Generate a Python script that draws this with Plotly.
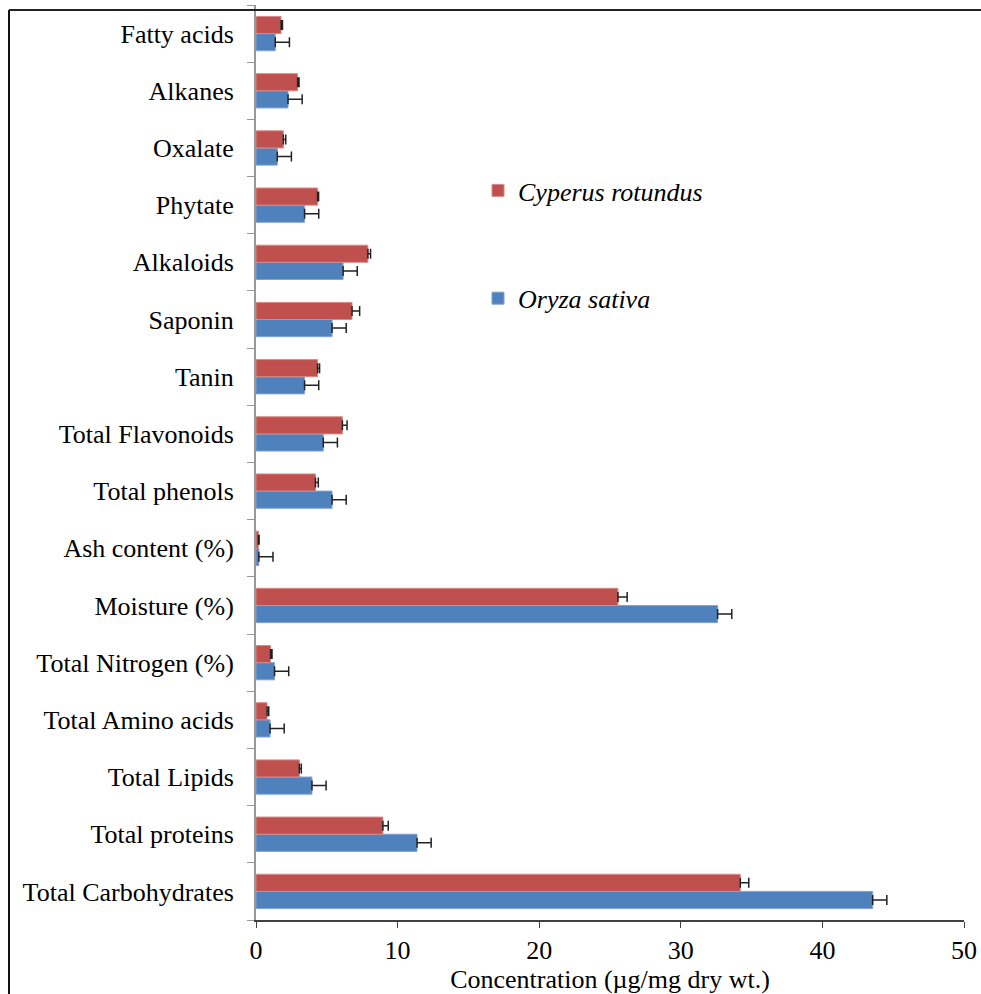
import plotly.graph_objects as go

categories = ["Total Carbohydrates", "Total proteins", "Total Lipids", "Total Amino acids",
              "Total Nitrogen (%)", "Moisture (%)", "Ash content (%)", "Total phenols",
              "Total Flavonoids", "Tanin", "Saponin", "Alkaloids", "Phytate", "Oxalate",
              "Alkanes", "Fatty acids"]
oryza = [43.55, 11.37, 3.95, 0.99, 1.31, 32.6, 0.2, 5.37, 4.75, 3.43, 5.37, 6.15, 3.43, 1.5, 2.26, 1.36]
oryza_err = [1.0, 1.0, 1.0, 1.0, 1.0, 1.0, 1.0, 1.0, 1.0, 1.0, 1.0, 1.0, 1.0, 1.0, 1.0, 1.0]
cyperus = [34.2, 8.96, 3.06, 0.78, 1.03, 25.56, 0.17, 4.2, 6.1, 4.35, 6.78, 7.9, 4.35, 1.93, 2.94, 1.77]
cyperus_err = [0.6, 0.38, 0.14, 0.12, 0.1, 0.65, 0.05, 0.2, 0.33, 0.14, 0.54, 0.19, 0.07, 0.17, 0.1, 0.1]
x_ticks = [0, 10, 20, 30, 40, 50]

FONT = "Liberation Serif"
FS = 26
W, H = 981, 994
L, R, T, B = 256, 17, 5, 74
pw, ph = W - L - R, H - T - B

def px2paper_x(px):
    return (px - L) / pw

def px2paper_y(py):
    return (H - B - py) / ph

fig = go.Figure()
fig.add_trace(go.Bar(
    y=categories, x=oryza, orientation="h", name="<i>Oryza sativa</i>",
    legendgroup="o", legendrank=2,
    marker=dict(color="#4F81BD", line=dict(color="#7fa3d3", width=1)),
    error_x=dict(type="data", array=oryza_err, arrayminus=[0] * len(oryza_err),
                 symmetric=False, color="#222222", thickness=1.5, width=5),
))
fig.add_trace(go.Bar(
    y=categories, x=cyperus, orientation="h", name="<i>Cyperus rotundus</i>",
    legendgroup="c", legendrank=1,
    marker=dict(color="#C0504D", line=dict(color="#d98a88", width=1)),
    error_x=dict(type="data", array=cyperus_err, arrayminus=[0] * len(cyperus_err),
                 symmetric=False, color="#222222", thickness=1.5, width=5),
))

fig.update_layout(
    width=W, height=H,
    margin=dict(l=L, r=R, t=T, b=B, pad=0),
    paper_bgcolor="white", plot_bgcolor="white",
    barmode="group", bargap=0.4, bargroupgap=0,
    font=dict(family=FONT, size=FS, color="black"),
    xaxis=dict(
        range=[0, 50], tickvals=x_ticks, showgrid=False, zeroline=False,
        showline=True, linecolor="#404040", linewidth=1.5,
        ticks="outside", ticklen=6, tickcolor="#404040",
        tickfont=dict(family=FONT, size=FS),
        title=dict(text="Concentration (µg/mg dry wt.)", font=dict(family=FONT, size=FS), standoff=0),
    ),
    yaxis=dict(
        type="category", showgrid=False, zeroline=False,
        showline=True, linecolor="#999999", linewidth=2,
        ticks="outside", tickson="boundaries", ticklen=7, tickcolor="#999999",
        tickfont=dict(family=FONT, size=FS),
        ticklabelstandoff=15,
    ),
    legend=dict(
        x=px2paper_x(478), y=px2paper_y(167), xanchor="left", yanchor="top",
        traceorder="grouped", tracegroupgap=71,
        font=dict(family=FONT, size=FS), bgcolor="rgba(0,0,0,0)",
    ),
    shapes=[
        dict(type="line", xref="paper", yref="paper",
             x0=px2paper_x(9), x1=px2paper_x(981), y0=px2paper_y(10), y1=px2paper_y(10),
             line=dict(color="#222222", width=2)),
        dict(type="line", xref="paper", yref="paper",
             x0=px2paper_x(9), x1=px2paper_x(9), y0=px2paper_y(10), y1=px2paper_y(994),
             line=dict(color="#111111", width=2)),
    ],
)

fig.write_html("out.html")
